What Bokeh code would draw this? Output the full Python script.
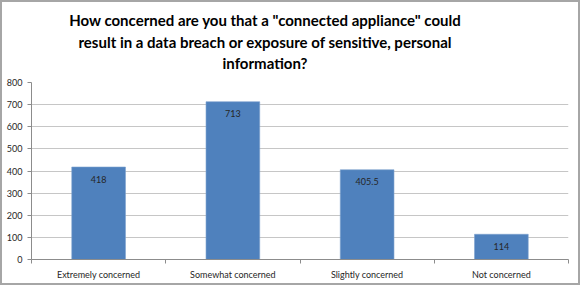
from bokeh.plotting import figure
from bokeh.models import Range1d, FixedTicker, ColumnDataSource, Div
from bokeh.layouts import column
from bokeh.core.properties import value
from bokeh.embed import file_html
from bokeh.resources import INLINE

# Survey responses
categories = ["Extremely concerned", "Somewhat concerned",
              "Slightly concerned", "Not concerned"]
counts = [418, 713, 405.5, 114]
value_labels = ["418", "713", "405.5", "114"]
y_ticks = [0, 100, 200, 300, 400, 500, 600, 700, 800]
title_lines = ['How concerned are you that a "connected appliance" could',
               "result in a data breach or exposure of sensitive, personal",
               "information?"]

FONT = "Lato"
BAR = "#4f81bd"
TEXT = "#262626"

centers = [i + 0.5 for i in range(len(categories))]
src = ColumnDataSource(dict(x=centers, top=counts, lab=value_labels))

# title block above the plot
title = Div(
    text=('<div style="width:526px;text-align:center;font-family:Lato;'
          'font-weight:bold;font-size:15px;line-height:21.5px;'
          'padding-top:8px;color:#000;">'
          + "<br>".join(t.replace('"', "&quot;") for t in title_lines)
          + "</div>"),
    width=576, height=76, margin=(0, 0, 0, 0),
    styles={"background": "white"})

p = figure(width=576, height=205, output_backend="svg", toolbar_location=None,
           x_range=Range1d(0, len(categories)), y_range=Range1d(0, 800),
           min_border_left=29, min_border_right=10,
           min_border_top=4, min_border_bottom=24, margin=(0, 0, 0, 0))
p.background_fill_color = "white"
p.border_fill_color = "white"
p.outline_line_color = None

# grid
p.xgrid.grid_line_color = None
p.ygrid.grid_line_color = "#c6c6c6"
p.ygrid.grid_line_width = 1
p.ygrid.ticker = FixedTicker(ticks=y_ticks)

# bars
p.vbar(x="x", top="top", width=0.4, bottom=0, source=src,
       fill_color=BAR, line_color="#7a9fcd", line_width=0.6)

# value labels inside the bars
p.text(x="x", y="top", text="lab", source=src, text_align="center",
       text_baseline="middle", y_offset=12, text_font=value(FONT),
       text_font_size="9px", text_color=TEXT)

# y axis
ya = p.yaxis[0]
ya.ticker = FixedTicker(ticks=y_ticks)
ya.axis_line_color = "#8c8c8c"
ya.major_tick_line_color = "#8c8c8c"
ya.major_tick_out = 4
ya.major_tick_in = 0
ya.minor_tick_line_color = None
ya.major_label_standoff = 5
ya.major_label_text_font = FONT
ya.major_label_text_font_size = "9px"
ya.major_label_text_color = TEXT

# x axis: labels at category centres, ticks at category boundaries
xa = p.xaxis[0]
xa.ticker = FixedTicker(ticks=centers,
                        minor_ticks=list(range(len(categories) + 1)))
xa.major_label_overrides = {c: name for c, name in zip(centers, categories)}
xa.axis_line_color = "#8c8c8c"
xa.major_tick_line_color = None
xa.minor_tick_line_color = "#8c8c8c"
xa.minor_tick_out = 4
xa.minor_tick_in = 0
xa.major_label_standoff = 3
xa.major_label_text_font = FONT
xa.major_label_text_font_size = "9px"
xa.major_label_text_color = TEXT

# outer chart border around title and plot
layout = column(title, p, spacing=0, margin=(0, 0, 0, 0),
                styles={"border": "2px solid #a6a6a6", "background": "white"})

open("out.html", "w").write(file_html(layout, INLINE))
